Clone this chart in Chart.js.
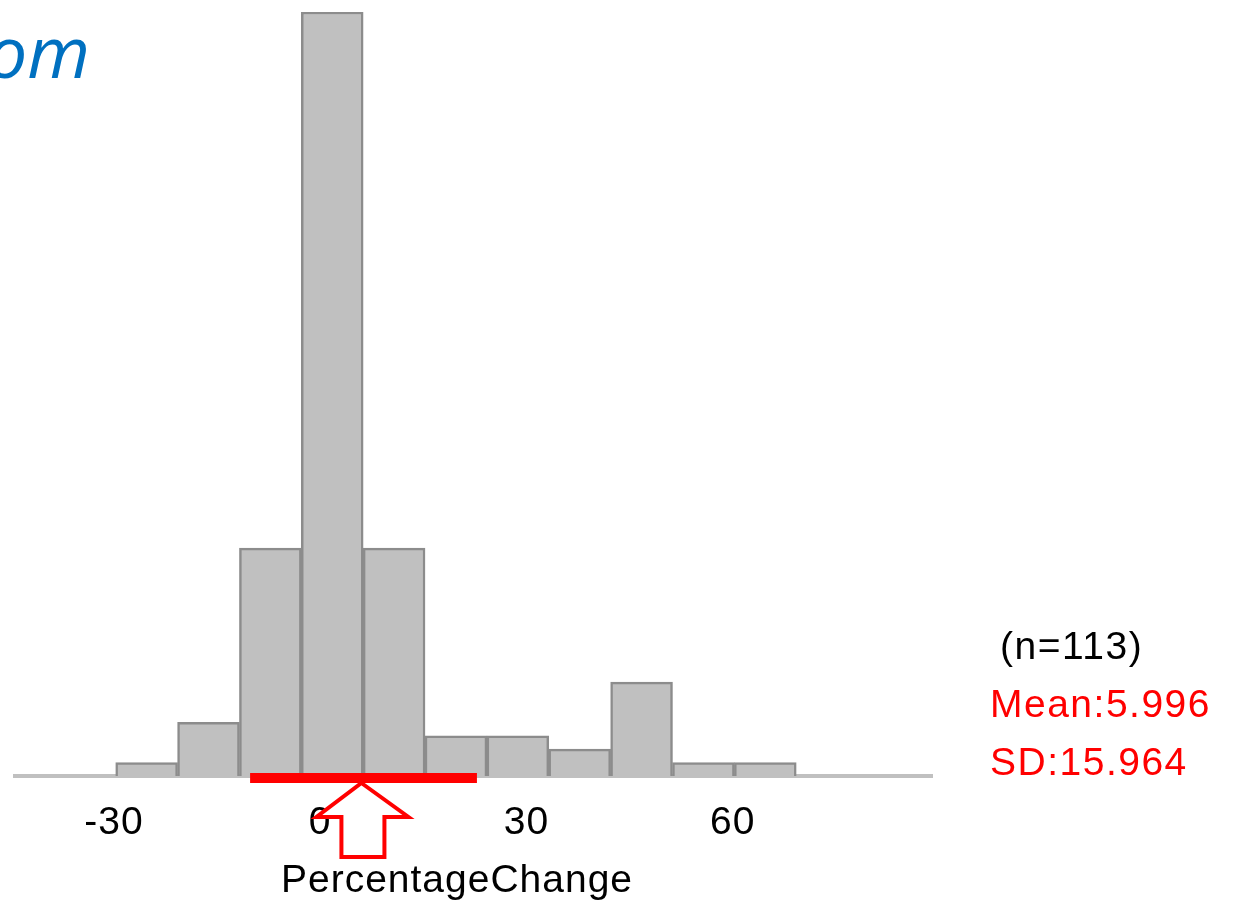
<!DOCTYPE html>
<html>
<head>
<meta charset="utf-8">
<script src="https://cdn.jsdelivr.net/npm/chart.js@4"></script>
<style>
  html, body { margin: 0; padding: 0; background: #fff; }
  #wrap { width: 1238px; height: 900px; }
</style>
</head>
<body>
<div id="wrap"><canvas id="hist"></canvas></div>
<script>
// histogram bins (centre of each 9-unit bin) and counts
const binCenters = [-25.25, -16.25, -7.25, 1.75, 10.75, 19.75, 28.75, 37.75, 46.75, 55.75, 64.75];
const counts = [1, 4, 17, 57, 17, 3, 3, 2, 7, 1, 1];
const xTicks = [-30, 0, 30, 60];
const sampleN = 113;
const meanVal = 5.996;
const sdVal = 15.964;
const spanLine = [-10.2, 22.8];   // red bar under the histogram

const FONT = '"Liberation Sans", Arial, sans-serif';

const extras = {
  id: 'extras',
  beforeDraw(chart) {
    chart.ctx.letterSpacing = '1px';
  },
  afterDraw(chart) {
    const ctx = chart.ctx;
    const xs = chart.scales.x;
    const base = chart.chartArea.bottom;
    ctx.save();

    // red mean +/- sd bar
    ctx.strokeStyle = '#ff0000';
    ctx.lineWidth = 10;
    ctx.lineCap = 'butt';
    ctx.beginPath();
    ctx.moveTo(xs.getPixelForValue(spanLine[0]), base + 2);
    ctx.lineTo(xs.getPixelForValue(spanLine[1]), base + 2);
    ctx.stroke();

    // arrow pointing up at the mean
    const mx = xs.getPixelForValue(meanVal);
    const tip = base + 7;
    ctx.beginPath();
    ctx.moveTo(mx, tip);
    ctx.lineTo(mx + 47, tip + 34);
    ctx.lineTo(mx + 23, tip + 34);
    ctx.lineTo(mx + 23, tip + 74);
    ctx.lineTo(mx - 20, tip + 74);
    ctx.lineTo(mx - 20, tip + 34);
    ctx.lineTo(mx - 45, tip + 34);
    ctx.closePath();
    ctx.fillStyle = '#ffffff';
    ctx.fill();
    ctx.lineWidth = 4;
    ctx.lineJoin = 'miter';
    ctx.stroke();

    // axis title
    ctx.fillStyle = '#000000';
    ctx.font = '39px ' + FONT;
    ctx.textAlign = 'center';
    ctx.textBaseline = 'alphabetic';
    ctx.fillText('PercentageChange', 457, 892);

    // stats on the right
    ctx.textAlign = 'left';
    ctx.letterSpacing = '1.5px';
    ctx.fillText('(n=' + sampleN + ')', 1000, 659);
    ctx.fillStyle = '#ff0000';
    ctx.fillText('Mean:' + meanVal, 990, 717);
    ctx.fillText('SD:' + sdVal, 990, 775);

    // clipped slide title fragment
    ctx.letterSpacing = '0px';
    ctx.fillStyle = '#0070c0';
    ctx.font = 'italic 72px "Open Sans", "Noto Sans", sans-serif';
    ctx.textAlign = 'right';
    ctx.fillText('om', 90, 78);

    ctx.restore();
  }
};

new Chart(document.getElementById('hist'), {
  type: 'bar',
  data: {
    datasets: [{
      data: binCenters.map((c, i) => ({ x: c, y: counts[i] })),
      backgroundColor: '#c0c0c0',
      borderColor: '#8c8c8c',
      borderWidth: 2.5,
      barPercentage: 1,
      categoryPercentage: 1
    }]
  },
  options: {
    responsive: true,
    maintainAspectRatio: false,
    animation: false,
    layout: { padding: { left: 15, right: 306, top: 12, bottom: 0 } },
    plugins: { legend: { display: false }, tooltip: { enabled: false } },
    scales: {
      x: {
        type: 'linear',
        offset: false,
        min: -44.4,
        max: 89,
        afterBuildTicks: (s) => { s.ticks = xTicks.map(v => ({ value: v })); },
        afterFit: (s) => { s.height = 124; },
        grid: { display: false, drawTicks: false },
        border: { display: true, color: '#c0c0c0', width: 4 },
        ticks: {
          color: '#000000',
          font: { family: FONT, size: 39 },
          padding: 24,
          maxRotation: 0,
          autoSkip: false
        }
      },
      y: {
        display: false,
        min: 0,
        max: 57
      }
    }
  },
  plugins: [extras]
});
</script>
</body>
</html>
